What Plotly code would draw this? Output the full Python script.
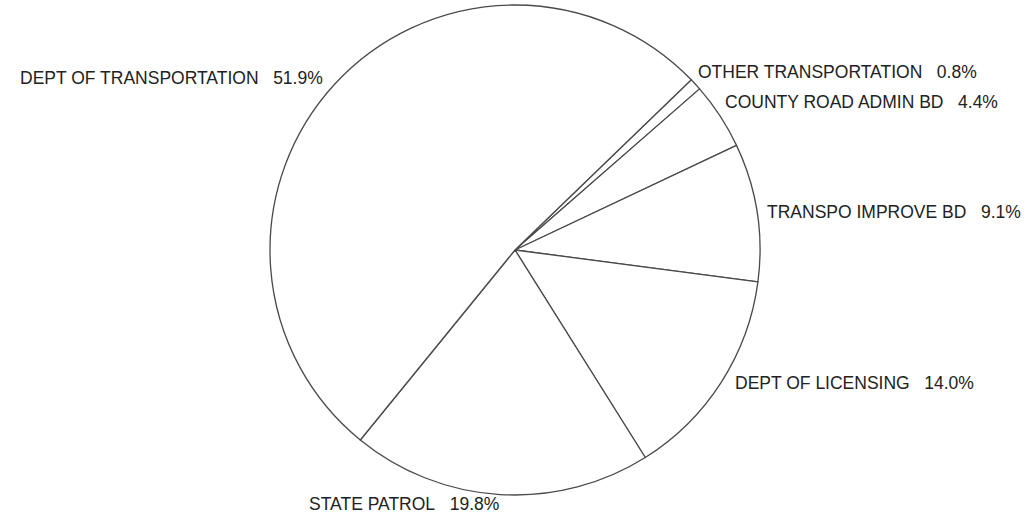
import numpy as np
import plotly.graph_objects as go

# ---- data ----
labels = ["OTHER TRANSPORTATION", "COUNTY ROAD ADMIN BD", "TRANSPO IMPROVE BD",
          "DEPT OF LICENSING", "STATE PATROL", "DEPT OF TRANSPORTATION"]
values = [0.8, 4.4, 9.1, 14.0, 19.8, 51.9]
pct_labels = ["0.8%", "4.4%", "9.1%", "14.0%", "19.8%", "51.9%"]

# ---- layout / style ----
W, H = 1029, 517
cx, cy, R = 515, 250, 245          # pie centre and radius in pixels
rotation = 46                      # start angle, clockwise from 12 o'clock
# label anchor side and pixel nudges from the slice's mid-angle rim point
label_style = [
    ("left", 1, -12),
    ("left", 3, -14),
    ("left", 8, 0),
    ("left", 12, 1),
    ("right", 1, 9),
    ("right", -10, -6),
]
font = dict(family="Liberation Sans, Arial, sans-serif", size=17.5, color="#222222")

fig = go.Figure(go.Pie(
    labels=labels,
    values=values,
    sort=False,
    direction="clockwise",
    rotation=rotation,
    textinfo="none",
    hoverinfo="label+percent",
    marker=dict(colors=["white"] * len(values), line=dict(color="#4a4a4a", width=1.3)),
    domain=dict(x=[(cx - R) / W, (cx + R) / W], y=[1 - (cy + R) / H, 1 - (cy - R) / H]),
    showlegend=False,
))

total = float(np.sum(values))
cum = np.cumsum(values) - np.array(values) / 2.0
annotations = []
for lab, pct, c, (anchor, dx, dy) in zip(labels, pct_labels, cum, label_style):
    theta = np.deg2rad(rotation + c / total * 360.0)
    px = cx + R * np.sin(theta)
    py = cy - R * np.cos(theta)
    annotations.append(dict(
        x=px / W, y=1 - py / H, xref="paper", yref="paper",
        text=lab + "\u00a0\u00a0\u00a0" + pct,
        showarrow=False, xanchor=anchor, yanchor="middle",
        xshift=dx, yshift=-dy, font=font,
    ))

fig.update_layout(
    width=W, height=H,
    margin=dict(l=0, r=0, t=0, b=0),
    paper_bgcolor="white", plot_bgcolor="white",
    annotations=annotations,
)

fig.write_html("out.html",
               config={"displayModeBar": False},
               post_script="document.body.style.margin='0';document.body.style.overflow='hidden';")
